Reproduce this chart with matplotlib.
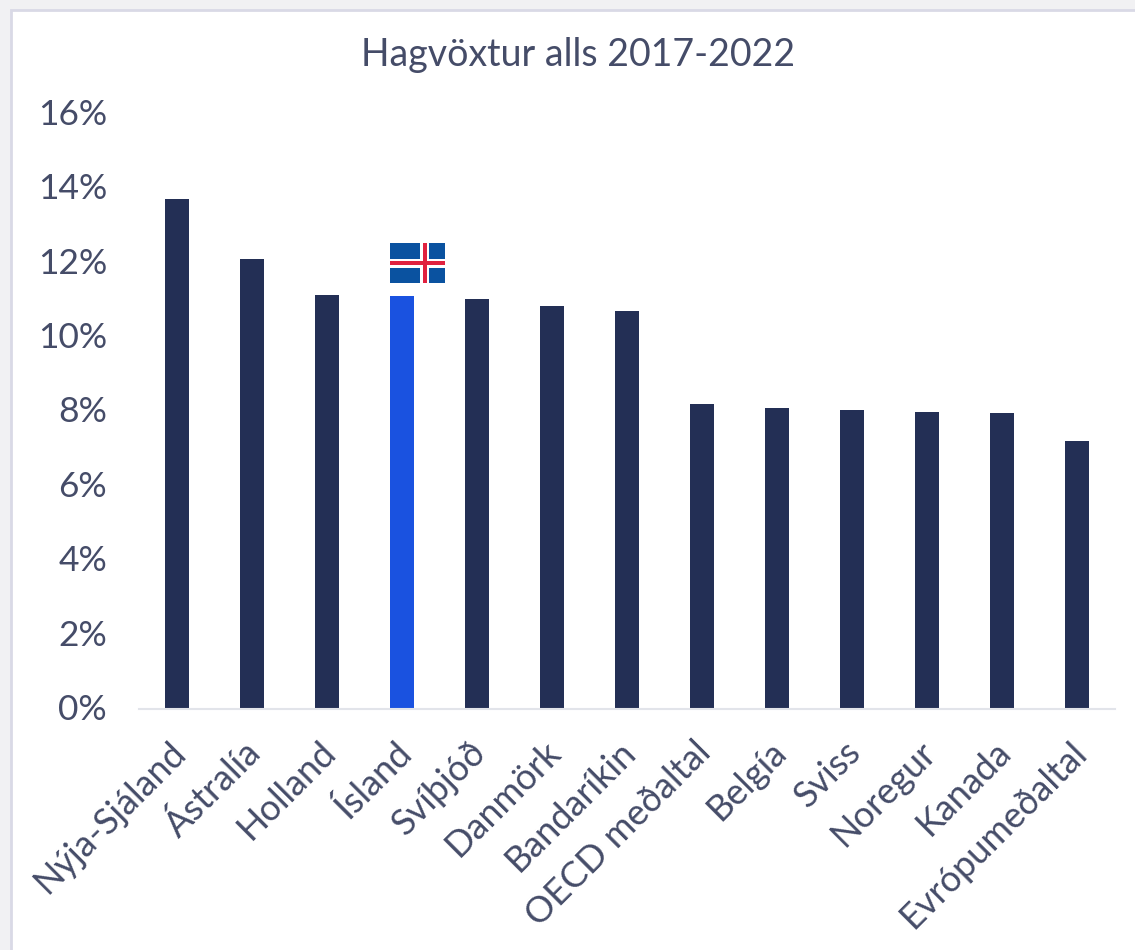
import matplotlib
matplotlib.use('Agg')
import matplotlib.pyplot as plt
from matplotlib.patches import Rectangle
from matplotlib.transforms import ScaledTranslation

countries = ['Nýja-Sjáland', 'Ástralía', 'Holland', 'Ísland', 'Svíþjóð', 'Danmörk', 'Bandaríkin',
             'OECD meðaltal', 'Belgía', 'Sviss', 'Noregur', 'Kanada', 'Evrópumeðaltal']
growth = [13.72, 12.1, 11.13, 11.1, 11.03, 10.85, 10.7, 8.2, 8.1, 8.03, 8.0, 7.95, 7.2]
yticks = [0, 2, 4, 6, 8, 10, 12, 14, 16]
title = 'Hagvöxtur alls 2017-2022'

W, H = 1135, 950
textcolor = '#454c68'
plt.rcParams['font.family'] = ['Lato', 'DejaVu Sans']

fig = plt.figure(figsize=(W / 100, H / 100), dpi=100, facecolor='#f1f1f3')

# white card behind the chart
fig.add_artist(Rectangle((11 / W, -0.01), 1.0, (H - 10) / H + 0.01, transform=fig.transFigure,
                         facecolor='white', edgecolor='#d9d9e6', linewidth=2, zorder=-1))

ax = fig.add_axes([139 / W, (H - 709) / H, 976 / W, 595 / H])
ax.patch.set_alpha(0)
colors = ['#1a52e0' if c == 'Ísland' else '#232f55' for c in countries]
ax.bar(range(len(countries)), growth, width=0.32, color=colors)

ax.set_xlim(-0.5, 12.5)
ax.set_ylim(0, 16)
ax.set_yticks(yticks)
ax.set_yticklabels([f'{t}%' for t in yticks], fontsize=25.5, color=textcolor)
ax.set_xticks(range(len(countries)))
ax.set_xticklabels(countries, rotation=45, ha='right', rotation_mode='anchor',
                   fontsize=26, color=textcolor)
ax.tick_params(axis='both', length=0)
ax.tick_params(axis='y', pad=23)
ax.tick_params(axis='x', pad=18)
for s in ['top', 'right', 'left']:
    ax.spines[s].set_visible(False)
ax.spines['bottom'].set_color('#e2e4ea')
ax.spines['bottom'].set_linewidth(1.5)

# nudge the labels to where they sit in the original
for lab in ax.get_xticklabels():
    lab.set_transform(lab.get_transform() + ScaledTranslation(-8 / 100, -1 / 100, fig.dpi_scale_trans))
for lab in ax.get_yticklabels():
    lab.set_transform(lab.get_transform() + ScaledTranslation(0, 2 / 100, fig.dpi_scale_trans))

fig.text(578 / W, (H - 55) / H, title, ha='center', va='center', fontsize=27, color=textcolor)

# Icelandic flag above the Ísland bar
flag = ax.inset_axes([2.84, 11.45, 0.73, 1.08], transform=ax.transData)
flag.set_xlim(0, 25)
flag.set_ylim(0, 18)
flag.axis('off')
flag.add_patch(Rectangle((0, 0), 25, 18, facecolor='#0a52a0'))
flag.add_patch(Rectangle((14, 0), 4, 18, facecolor='white'))
flag.add_patch(Rectangle((0, 7), 25, 4, facecolor='white'))
flag.add_patch(Rectangle((15, 0), 2, 18, facecolor='#e0213f'))
flag.add_patch(Rectangle((0, 8), 25, 2, facecolor='#e0213f'))

fig.savefig('out.png', dpi=100, facecolor=fig.get_facecolor())
